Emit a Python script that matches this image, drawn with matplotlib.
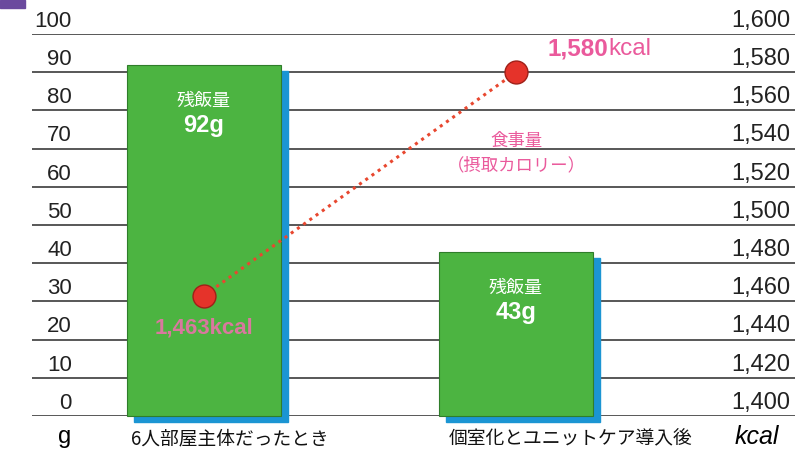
import matplotlib.pyplot as plt
from matplotlib.patches import Rectangle

plt.rcParams['font.family'] = ['Liberation Sans', 'Noto Sans CJK JP']

# データ
categories = ['6人部屋主体だったとき', '個室化とユニットケア導入後']
leftover_g = [92, 43]          # 残飯量 (g)
intake_kcal = [1463, 1580]     # 食事量 (kcal)
left_ticks = list(range(0, 101, 10))
right_ticks = list(range(1400, 1601, 20))

green = '#4cb441'
blue = '#1b95d3'
pink = '#ea5a9c'
red = '#e5332a'
grid_c = '#4a4a4a'

fig = plt.figure(figsize=(8.04, 4.62), dpi=100)
ax = fig.add_axes([32 / 804, 1 - 416 / 462, 763 / 804, 382 / 462])
ax.set_xlim(-0.551, 1.894)
ax.set_ylim(0, 100)
for s in ax.spines.values():
    s.set_visible(False)
ax.set_xticks([])
ax.set_yticks([])

# 目盛線
for t in left_ticks:
    ax.axhline(t, color=grid_c, lw=1.3, zorder=1)
    ax.text(0.0524, t + 0.6, str(t), transform=ax.get_yaxis_transform(),
            ha='right', va='bottom', fontsize=16, color='#222222')

ax2 = ax.twinx()
ax2.set_ylim(1400, 1600)
ax2.set_yticks([])
for s in ax2.spines.values():
    s.set_visible(False)
for t in right_ticks:
    ax2.text(0.9934, t + 1.2, f'{t:,}', transform=ax2.get_yaxis_transform(),
             ha='right', va='bottom', fontsize=17, color='#222222')

# 棒（影付き）
w = 0.494
dx, dy = 0.023, 1.7
for i, v in enumerate(leftover_g):
    ax.add_patch(Rectangle((i - w / 2 + dx, -dy), w, v, color=blue,
                           zorder=2, clip_on=False))
    ax.add_patch(Rectangle((i - w / 2, 0), w, v, facecolor=green,
                           edgecolor='#2f7d2a', lw=0.8, zorder=3, clip_on=False))
    ax.text(i, v - 9.5, '残飯量', ha='center', va='center', color='white',
            fontsize=13, family='Noto Sans CJK JP', zorder=4)
    ax.text(i, v - 16, f'{v}g', ha='center', va='center', color='white',
            fontsize=17, fontweight='bold', zorder=4)

# 食事量の線
x = [0, 1]
ax2.plot(x, intake_kcal, linestyle=(0, (1, 1.5)), color='#e8472f', lw=2.2, zorder=5)
ax2.plot(x, intake_kcal, 'o', markersize=16.5, color=red,
         markeredgecolor='#a02018', markeredgewidth=1, zorder=6)
ax.set_zorder(ax2.get_zorder() - 1)
ax.patch.set_visible(False)

ax2.text(0, intake_kcal[0] - 17, f'{intake_kcal[0]:,}kcal', ha='center', va='center',
         color='#d9789e', fontsize=16, fontweight='bold', zorder=7)
ax2.text(1.297, intake_kcal[1] + 12, f'{intake_kcal[1]:,}', ha='right', va='center',
         color=pink, fontsize=17.5, fontweight='bold', zorder=7)
ax2.text(1.297, intake_kcal[1] + 12, 'kcal', ha='left', va='center',
         color=pink, fontsize=17.5, zorder=7)
ax2.text(1.0, 1544, '食事量', ha='center', va='center', color=pink,
         fontsize=12.5, family='Noto Sans CJK JP')
ax2.text(1.0, 1531, '（摂取カロリー）', ha='center', va='center', color=pink,
         fontsize=12.5, family='Noto Sans CJK JP')

# 軸ラベル・カテゴリ
lab_x = [0.083, 1.176]
for xx, c in zip(lab_x, categories):
    ax.text(xx, -6, c, ha='center', va='center', fontsize=13.5,
            family='Noto Sans CJK JP', color='#111111')
fig.text(65 / 804, 1 - 437 / 462, 'g', ha='center', va='center', fontsize=17)
fig.text(757 / 804, 1 - 437 / 462, 'kcal', ha='center', va='center', fontsize=18,
         style='italic')

fig.add_artist(Rectangle((0, 1 - 8 / 462), 25 / 804, 8 / 462,
                         transform=fig.transFigure, color='#6b4a9e'))

fig.savefig('out.png', dpi=100, facecolor='white')
